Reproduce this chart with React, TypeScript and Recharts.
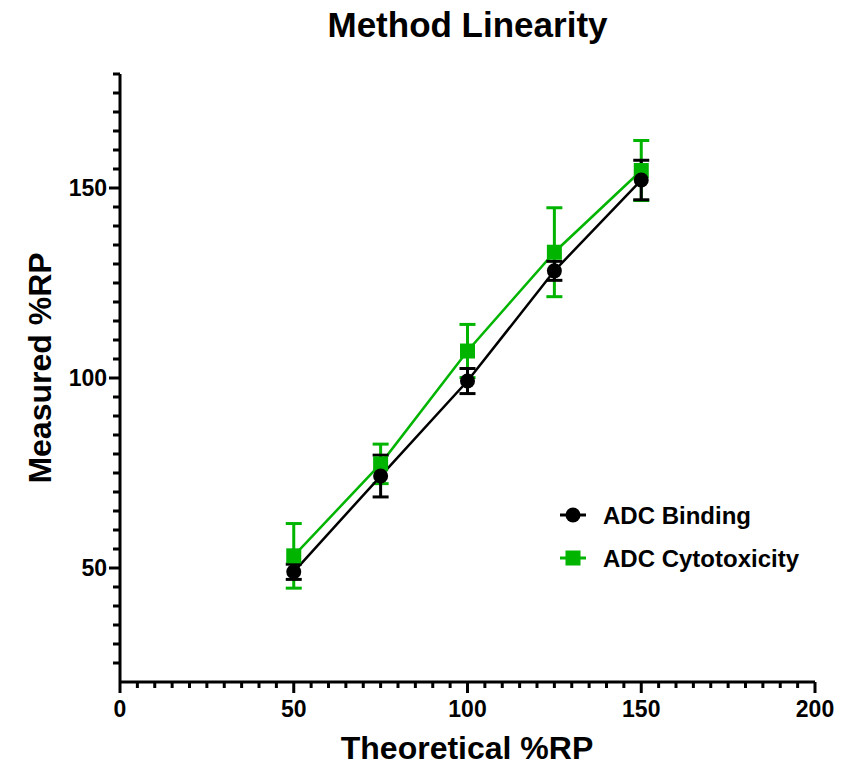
import { ComposedChart, Line, XAxis, YAxis, ErrorBar, Label } from "recharts";

const theoretical = [50, 75, 100, 125, 150];
const bindingMean = [49, 74.2, 99.2, 128.2, 152.1];
const bindingSd = [2, 5.5, 3.3, 2.5, 5.2];
const cytoMean = [53.2, 77.4, 107.1, 133.1, 154.6];
const cytoSd = [8.5, 5.2, 7, 11.7, 7.9];

const seriesNames = ["ADC Binding", "ADC Cytotoxicity"];
const xMajor = [0, 50, 100, 150, 200];
const yMajor = [50, 100, 150];
const minorStep = 5;
const xTicks = Array.from({ length: 41 }, (_, i) => i * minorStep);
const yTicks = Array.from({ length: 33 }, (_, i) => 20 + i * minorStep);

const BLACK = "#000000";
const GREEN = "#00b400";
const FONT = "'Liberation Sans', Arial, Helvetica, sans-serif";

const rows = theoretical.map((t, i) => ({
  x: t,
  binding: bindingMean[i],
  bindingErr: bindingSd[i],
  cyto: cytoMean[i],
  cytoErr: cytoSd[i],
}));

const XTick = ({ x, y, payload }: any) => {
  const major = xMajor.includes(payload.value);
  return (
    <g>
      <line x1={x} x2={x} y1={y} y2={y + (major ? 11 : 6)} stroke={BLACK} strokeWidth={3} />
      {major && (
        <text x={x} y={y + 35} textAnchor="middle" fontSize={23} fontWeight="bold" fontFamily={FONT} fill={BLACK}>
          {payload.value}
        </text>
      )}
    </g>
  );
};

const YTick = ({ x, y, payload }: any) => {
  const major = yMajor.includes(payload.value);
  if (payload.value === 20) return <g />;
  return (
    <g>
      <line x1={x - (major ? 11 : 7)} x2={x} y1={y} y2={y} stroke={BLACK} strokeWidth={3} />
      {major && (
        <text x={x - 13} y={y + 8} textAnchor="end" fontSize={23} fontWeight="bold" fontFamily={FONT} fill={BLACK}>
          {payload.value}
        </text>
      )}
    </g>
  );
};

const SquareDot = (p: any) => (
  <rect key={`sq-${p.index}`} x={p.cx - 7.5} y={p.cy - 7.5} width={15} height={15} fill={GREEN} />
);

// legend drawn as an overlay so it doesn't eat into the plot area
const LegendBox = () => (
  <svg width={270} height={90} style={{ position: "absolute", left: 550, top: 495 }}>
    {seriesNames.map((name, i) => {
      const cy = 20 + i * 43;
      const isGreen = i === 1;
      return (
        <g key={name}>
          <line x1={10} x2={36} y1={cy} y2={cy} stroke={isGreen ? GREEN : BLACK} strokeWidth={3} />
          {isGreen ? (
            <rect x={15.5} y={cy - 7.5} width={15} height={15} fill={GREEN} />
          ) : (
            <circle cx={23} cy={cy} r={7.5} fill={BLACK} />
          )}
          <text x={53} y={cy + 8.5} fontSize={24} fontWeight="bold" fontFamily={FONT} fill={BLACK}>
            {name}
          </text>
        </g>
      );
    })}
  </svg>
);

export default function App() {
  return (
    <div style={{ position: "absolute", left: 0, top: 0, width: 853, height: 765, background: "#fff" }}>
      <div
        style={{
          position: "absolute",
          left: 0,
          top: 7,
          width: 935,
          textAlign: "center",
          fontFamily: FONT,
          fontWeight: "bold",
          fontSize: 35,
          lineHeight: "35px",
          color: BLACK,
        }}
      >
        Method Linearity
      </div>
      <ComposedChart width={853} height={765} data={rows} margin={{ top: 74, right: 38, bottom: 0, left: 0 }}>
        <XAxis
          dataKey="x"
          type="number"
          domain={[0, 200]}
          ticks={xTicks}
          interval={0}
          tickSize={0}
          tickMargin={0}
          tickLine={false}
          tick={<XTick />}
          height={83}
          axisLine={{ stroke: BLACK, strokeWidth: 3 }}
        >
          <Label
            content={() => (
              <text x={467} y={759} textAnchor="middle" fontSize={32} fontWeight="bold" fontFamily={FONT} fill={BLACK}>
                Theoretical %RP
              </text>
            )}
          />
        </XAxis>
        <YAxis
          type="number"
          domain={[20, 180]}
          ticks={yTicks}
          interval={0}
          tickSize={0}
          tickMargin={0}
          tickLine={false}
          tick={<YTick />}
          width={120}
          axisLine={{ stroke: BLACK, strokeWidth: 3 }}
        >
          <Label
            content={() => (
              <text
                x={51}
                y={368}
                transform="rotate(-90 51 368)"
                textAnchor="middle"
                fontSize={32}
                fontWeight="bold"
                fontFamily={FONT}
                fill={BLACK}
              >
                Measured %RP
              </text>
            )}
          />
        </YAxis>
        <Line
          name={seriesNames[1]}
          dataKey="cyto"
          stroke={GREEN}
          strokeWidth={2.5}
          dot={SquareDot}
          activeDot={false}
          isAnimationActive={false}
        >
          <ErrorBar dataKey="cytoErr" width={8} stroke={GREEN} strokeWidth={3} isAnimationActive={false} />
        </Line>
        <Line
          name={seriesNames[0]}
          dataKey="binding"
          stroke={BLACK}
          strokeWidth={2.5}
          dot={{ r: 7.5, fill: BLACK, stroke: "none" }}
          activeDot={false}
          isAnimationActive={false}
        >
          <ErrorBar dataKey="bindingErr" width={8} stroke={BLACK} strokeWidth={3} isAnimationActive={false} />
        </Line>
      </ComposedChart>
      <LegendBox />
    </div>
  );
}
